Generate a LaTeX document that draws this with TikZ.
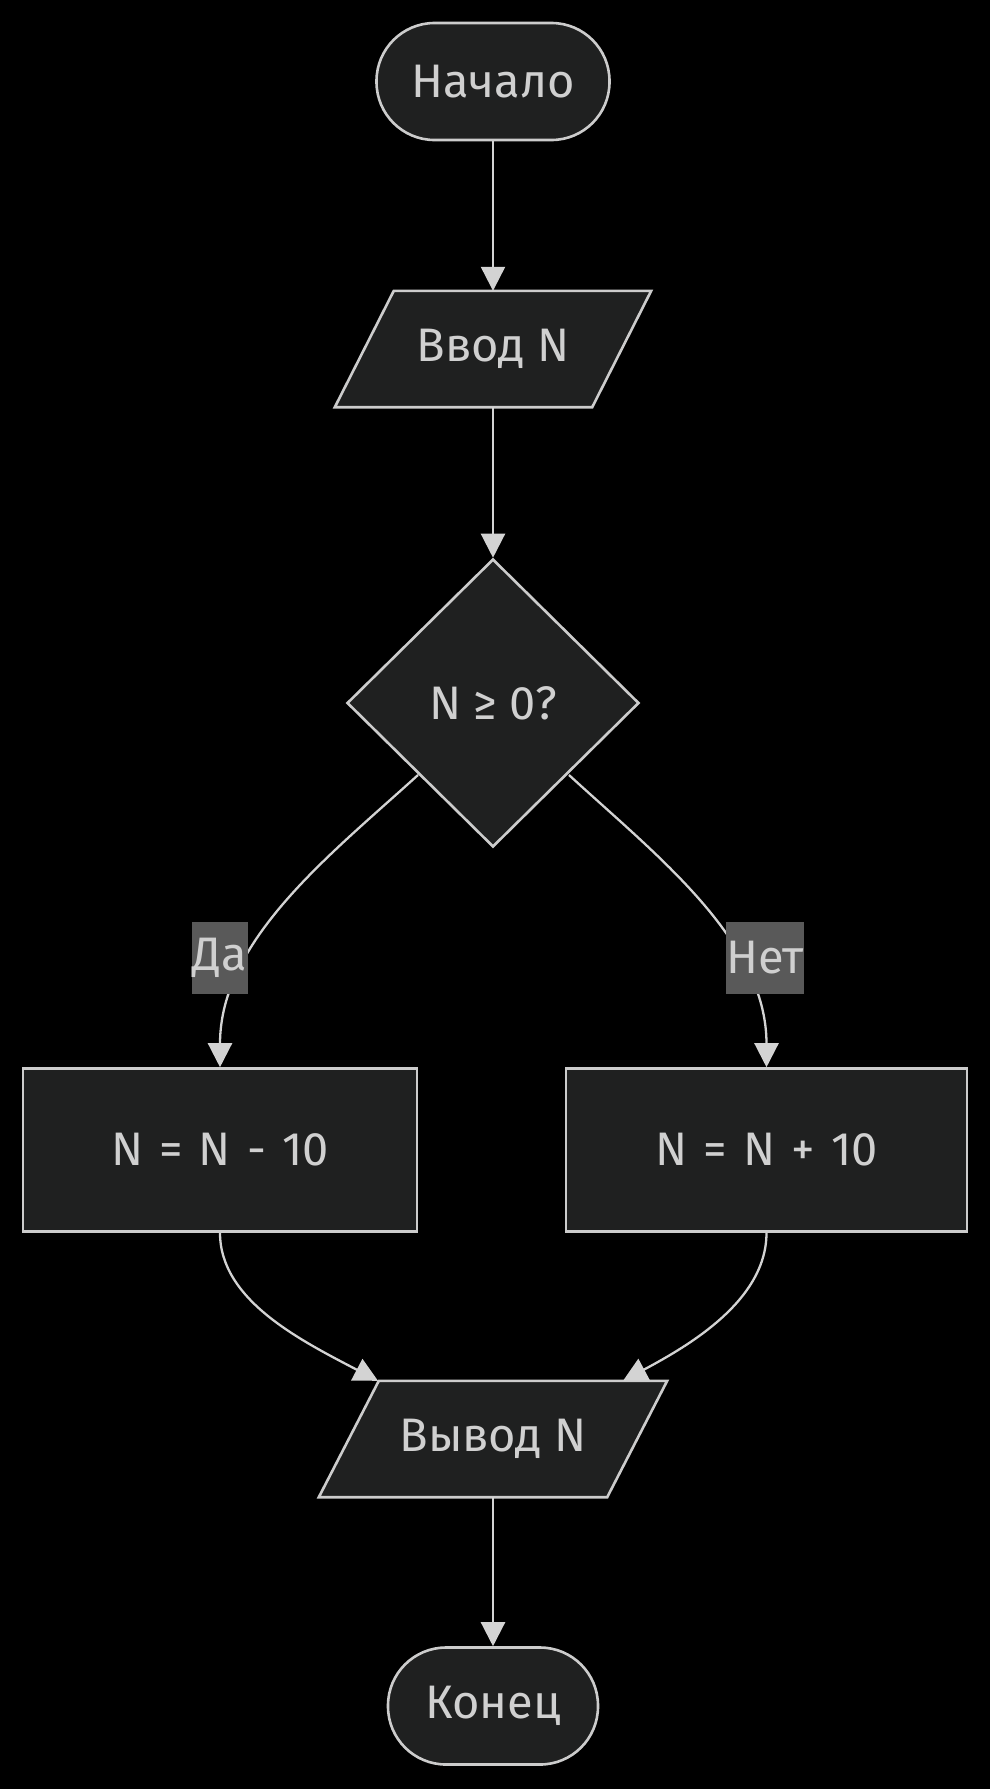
\documentclass[tikz,border=0pt]{standalone}
\usepackage{fontspec}
\setmainfont{Fira Sans}
\newfontfamily\procfont[WordSpace=1.3]{Fira Sans}
\usetikzlibrary{shapes.geometric,arrows.meta}
\definecolor{nodefill}{HTML}{1F2020}
\definecolor{nodeline}{HTML}{CCCCCC}
\definecolor{txt}{HTML}{D0D0D0}
\definecolor{lblbg}{HTML}{595959}
\definecolor{arrowc}{HTML}{D3D3D3}
\newcommand{\nodefont}{\fontsize{47}{56}\selectfont}
\tikzset{
  base/.style={draw=nodeline, fill=nodefill, line width=2.6pt, text=txt,
    font=\nodefont, inner sep=0pt},
  term/.style={base, rectangle, minimum height=117pt},
  proc/.style={base, rectangle, minimum height=163pt,
    font=\procfont\nodefont},
  decis/.style={base, diamond, minimum width=292pt, minimum height=288pt},
  iobox/.style={rectangle, draw=none, text=txt, inner sep=0pt,
    font=\nodefont, minimum height=116pt},
  iotext/.style={text=txt, font=\nodefont},
  ioshape/.style={draw=nodeline, fill=nodefill, line width=2.6pt},
  lbl/.style={fill=lblbg, text=txt, inner xsep=0.5pt, inner ysep=0pt,
    minimum height=72pt, font=\nodefont},
  conn/.style={draw=nodeline, line width=2.3pt,
    -{Triangle[length=24pt,width=24pt,fill=arrowc]}, color=arrowc},
}
\begin{document}
\begin{tikzpicture}[x=1pt,y=-1pt]
\fill[black] (0,0) rectangle (990,1789);
\useasboundingbox (0,0) rectangle (990,1789);
% start
\node[term, rounded corners=58pt, minimum width=233pt] (start) at (493,81.5) {Начало};
% input parallelogram
\node[iobox, minimum width=316pt] (in) at (493,349) {};
\draw[ioshape] ([xshift=59pt]in.north west) -- (in.north east)
  -- ([xshift=-59pt]in.south east) -- (in.south west) -- cycle;
\node[iotext] (intext) at (in.center) {Ввод N};
% decision
\node[decis] (dec) at (493,703) {N ≥ 0?};
% process boxes
\node[proc, minimum width=394pt] (minus) at (220,1150) {N = N - 10};
\node[proc, minimum width=401pt] (plus) at (766.5,1150) {N = N + 10};
% output parallelogram
\node[iobox, minimum width=348pt] (out) at (493,1439) {};
\draw[ioshape] ([xshift=60pt]out.north west) -- (out.north east)
  -- ([xshift=-60pt]out.south east) -- (out.south west) -- cycle;
\node[iotext] (outtext) at (out.center) {Вывод N};
% end
\node[term, rounded corners=58pt, minimum width=210pt] (end) at (493,1706) {Конец};
% connectors
\draw[conn] (start.south) -- (in.north);
\draw[conn] (in.south) -- (dec.north);
\coordinate (yesstart) at (418,775);
\coordinate (nostart) at (569,775);
\draw[conn] (yesstart) .. controls (330,855) and (220,940) .. (minus.north);
\draw[conn] (nostart) .. controls (656,855) and (766.5,940) .. (plus.north);
\draw[conn] (minus.south) .. controls (220,1300) and (300,1340) .. ([xshift=-115pt]out.north);
\draw[conn] (plus.south) .. controls (766.5,1300) and (690,1345) .. ([xshift=130pt]out.north);
\draw[conn] (out.south) -- (end.north);
% edge labels
\node[lbl] (yes) at (220,958) {Да};
\node[lbl] (no) at (765,958) {Нет};
\end{tikzpicture}
\end{document}
